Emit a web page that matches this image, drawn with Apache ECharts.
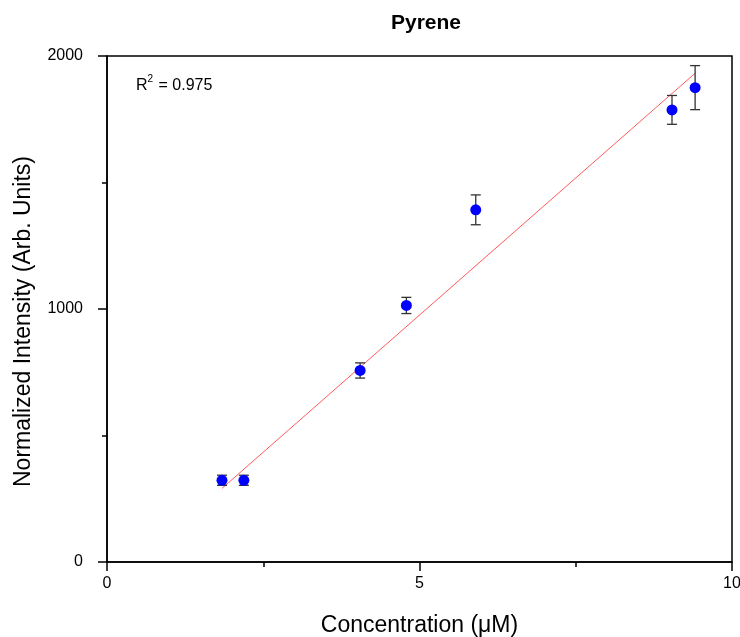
<!DOCTYPE html>
<html><head><meta charset="utf-8">
<script src="https://cdn.jsdelivr.net/npm/echarts@6/dist/echarts.min.js"></script>
<style>html,body{margin:0;padding:0;background:#fff;}#c{width:740px;height:637px;}</style>
</head><body><div id="c"></div>
<script>
const concentration = [1.84, 2.19, 4.05, 4.79, 5.90, 9.04, 9.41];
const intensity = [323, 323, 757, 1014, 1392, 1787, 1875];
const errors = [20, 20, 30, 32, 59, 57, 87];
const fitX = [1.84, 9.41];
const fitY = [291, 1932];
const xTicks = [0, 5, 10];
const yTicks = [0, 1000, 2000];
const r2Label = '0.975';

const points = concentration.map((x, i) => [x, intensity[i]]);
const errData = concentration.map((x, i) => [x, intensity[i] - errors[i], intensity[i] + errors[i]]);
const fitData = fitX.map((x, i) => [x, fitY[i]]);
const font = 'Liberation Sans, Arial, sans-serif';

const chart = echarts.init(document.getElementById('c'), null, {renderer: 'canvas'});
chart.setOption({
  animation: false,
  backgroundColor: '#fff',
  title: {
    text: 'Pyrene', left: 421, top: 8, textAlign: 'center',
    textStyle: {fontFamily: font, fontSize: 21, fontWeight: 'bold', color: '#000'}
  },
  grid: {left: 107, right: 8, top: 56, bottom: 75, outerBoundsMode: 'none', containLabel: false,
    show: true, borderColor: '#000', borderWidth: 1.5, backgroundColor: 'transparent'},
  xAxis: {
    type: 'value', min: 0, max: 10, interval: 5,
    name: 'Concentration (μM)', nameLocation: 'middle', nameGap: 52,
    nameTextStyle: {fontFamily: font, fontSize: 23, color: '#000'},
    axisLine: {show: true, onZero: false, lineStyle: {color: '#000', width: 1.5}},
    axisTick: {show: true, length: 9, lineStyle: {color: '#000', width: 1.5}},
    minorTick: {show: true, splitNumber: 2, length: 5, lineStyle: {color: '#000', width: 1.5}},
    splitLine: {show: false}, minorSplitLine: {show: false},
    axisLabel: {fontFamily: font, fontSize: 16, color: '#000', margin: 14,
      formatter: v => xTicks.includes(v) ? String(v) : ''}
  },
  yAxis: {
    type: 'value', min: 0, max: 2000, interval: 1000,
    name: 'Normalized Intensity (Arb. Units)', nameLocation: 'middle', nameGap: 72,
    nameTextStyle: {fontFamily: font, fontSize: 23, color: '#000', padding: [0, 25, 0, 0]},
    axisLine: {show: true, onZero: false, lineStyle: {color: '#000', width: 1.5}},
    axisTick: {show: true, length: 9, lineStyle: {color: '#000', width: 1.5}},
    minorTick: {show: true, splitNumber: 2, length: 5, lineStyle: {color: '#000', width: 1.5}},
    splitLine: {show: false}, minorSplitLine: {show: false},
    axisLabel: {fontFamily: font, fontSize: 16, color: '#000', margin: 24,
      formatter: v => yTicks.includes(v) ? String(v) : ''}
  },
  graphic: [{
    type: 'text', left: 136, top: 74,
    style: {
      text: '{r|R}{s|2}{r| = ' + r2Label + '}',
      rich: {
        r: {fontFamily: font, fontSize: 16, fill: '#000', verticalAlign: 'bottom', lineHeight: 20},
        s: {fontFamily: font, fontSize: 10, fill: '#000', verticalAlign: 'top', lineHeight: 20, padding: [0, 1, 9, 0]}
      }
    }
  }],
  series: [
    {
      type: 'line', data: fitData, showSymbol: false, symbol: 'none',
      lineStyle: {color: '#ff5a5a', width: 1}, z: 2
    },
    {
      type: 'custom', data: errData, z: 3,
      renderItem: function (params, api) {
        const x = api.value(0);
        const lo = api.coord([x, api.value(1)]);
        const hi = api.coord([x, api.value(2)]);
        const w = 5;
        const st = {stroke: '#333', lineWidth: 1.3};
        return {type: 'group', children: [
          {type: 'line', shape: {x1: lo[0], y1: lo[1], x2: hi[0], y2: hi[1]}, style: st},
          {type: 'line', shape: {x1: lo[0] - w, y1: lo[1], x2: lo[0] + w, y2: lo[1]}, style: st},
          {type: 'line', shape: {x1: hi[0] - w, y1: hi[1], x2: hi[0] + w, y2: hi[1]}, style: st}
        ]};
      }
    },
    {
      type: 'scatter', data: points, symbol: 'circle', symbolSize: 11,
      itemStyle: {color: '#0000ff', opacity: 1}, z: 4
    }
  ]
});
</script></body></html>
